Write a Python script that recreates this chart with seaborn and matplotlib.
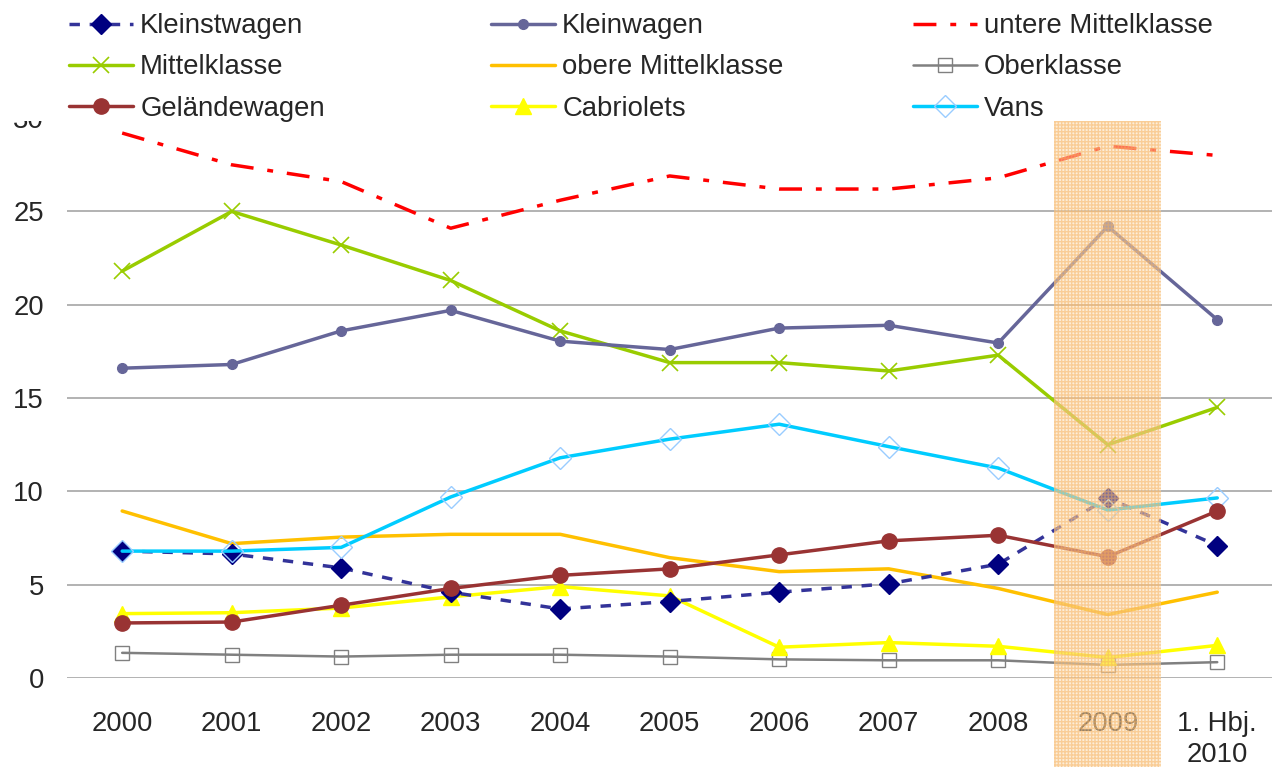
import numpy as np
import pandas as pd
import matplotlib
matplotlib.use("Agg")
import matplotlib.pyplot as plt
import seaborn as sns
from matplotlib.patches import Rectangle
from matplotlib.transforms import blended_transform_factory

# ---- Daten (Anteile in %) ----
years = ['2000', '2001', '2002', '2003', '2004', '2005', '2006', '2007', '2008', '2009', '1. Hbj.\n2010']

kleinstwagen = [6.8, 6.65, 5.9, 4.6, 3.7, 4.1, 4.6, 5.05, 6.1, 9.65, 7.1]
kleinwagen = [16.6, 16.8, 18.6, 19.7, 18.05, 17.6, 18.75, 18.9, 17.95, 24.2, 19.2]
untere_mk = [29.2, 27.5, 26.6, 24.1, 25.6, 26.9, 26.2, 26.2, 26.8, 28.5, 28.0]
mittelklasse = [21.8, 25.0, 23.2, 21.3, 18.6, 16.9, 16.9, 16.45, 17.3, 12.5, 14.5]
obere_mk = [8.95, 7.2, 7.55, 7.7, 7.7, 6.45, 5.7, 5.85, 4.8, 3.4, 4.6]
oberklasse = [1.35, 1.25, 1.15, 1.25, 1.25, 1.15, 1.0, 0.95, 0.95, 0.7, 0.85]
gelaendewagen = [2.95, 3.0, 3.9, 4.8, 5.5, 5.85, 6.6, 7.35, 7.65, 6.5, 8.95]
cabriolets = [3.45, 3.5, 3.75, 4.35, 4.9, 4.4, 1.65, 1.9, 1.7, 1.1, 1.75]
vans = [6.8, 6.8, 7.0, 9.7, 11.8, 12.8, 13.6, 12.4, 11.25, 9.0, 9.65]

series = {
    'Kleinstwagen': kleinstwagen,
    'Kleinwagen': kleinwagen,
    'untere Mittelklasse': untere_mk,
    'Mittelklasse': mittelklasse,
    'obere Mittelklasse': obere_mk,
    'Oberklasse': oberklasse,
    'Geländewagen': gelaendewagen,
    'Cabriolets': cabriolets,
    'Vans': vans,
}

# Stil je Reihe
styles = {
    'Kleinstwagen': dict(color='#333399', ls=(0, (3, 2.8)), lw=2.5, marker='D', ms=10,
                         mfc='#000080', mec='#000080'),
    'Kleinwagen': dict(color='#666699', ls='-', lw=2.5, marker='o', ms=7,
                       mfc='#666699', mec='#666699'),
    'untere Mittelklasse': dict(color='#FF0000', ls=(0, (6.6, 4, 1.7, 4)), lw=2.5, marker=None),
    'Mittelklasse': dict(color='#99CC00', ls='-', lw=2.5, marker='x', ms=11,
                         mfc='#99CC00', mec='#99CC00', mew=1.2),
    'obere Mittelklasse': dict(color='#FFC000', ls='-', lw=2.5, marker=None),
    'Oberklasse': dict(color='#808080', ls='-', lw=1.8, marker='s', ms=10,
                       mfc='none', mec='#808080', mew=1.0),
    'Geländewagen': dict(color='#993333', ls='-', lw=2.5, marker='o', ms=11,
                         mfc='#993333', mec='#993333'),
    'Cabriolets': dict(color='#FFFF00', ls='-', lw=2.5, marker='^', ms=12,
                       mfc='#FFFF00', mec='#FFFF00'),
    'Vans': dict(color='#00CCFF', ls='-', lw=2.5, marker='D', ms=11,
                 mfc='none', mec='#99CCFF', mew=1.0),
}

# Zeichenreihenfolge (hinten -> vorne)
draw_order = ['Oberklasse', 'Cabriolets', 'obere Mittelklasse', 'Kleinstwagen', 'Vans',
              'Geländewagen', 'Mittelklasse', 'Kleinwagen', 'untere Mittelklasse']

rows = []
for name, vals in series.items():
    for i, v in enumerate(vals):
        rows.append({'pos': i, 'wert': v, 'klasse': name})
df = pd.DataFrame(rows)

sns.set_style('white')
plt.rcParams['font.family'] = ['Liberation Sans', 'DejaVu Sans']

fig = plt.figure(figsize=(12.72, 7.67), dpi=100)
ax = fig.add_axes([0.053, 0.116, 0.947, 0.730])

handles = {}
for z, name in enumerate(draw_order):
    st = styles[name]
    sub = df[df['klasse'] == name]
    sns.lineplot(data=sub, x='pos', y='wert', ax=ax, color=st['color'],
                 linestyle=st['ls'], linewidth=st['lw'], legend=False,
                 marker=st.get('marker'), markersize=st.get('ms', 0),
                 markerfacecolor=st.get('mfc', st['color']),
                 markeredgecolor=st.get('mec', st['color']),
                 markeredgewidth=st.get('mew', 1.0), zorder=3 + z)
    handles[name] = ax.lines[-1]

ax.set_xlim(-0.5, len(years) - 0.5)
ax.set_ylim(0, 30)
ax.set_yticks(np.arange(0, 31, 5))
ax.set_xticks(range(len(years)))
ax.set_xticklabels(years, fontsize=19.8, linespacing=1.25)
ax.tick_params(axis='y', labelsize=19.8, length=0, pad=17)
ax.tick_params(axis='x', length=0, pad=24)
ax.set_xlabel('')
ax.set_ylabel('')
ax.yaxis.grid(True, color='#A6A6A6', linewidth=1.2)
ax.xaxis.grid(False)
for sp in ax.spines.values():
    sp.set_visible(False)

# Markierung 2009
idx09 = years.index('2009')
trans = blended_transform_factory(ax.transData, ax.transAxes)
band = Rectangle((idx09 - 0.49, -0.16), 0.98, 1.16, transform=trans, clip_on=False,
                 facecolor='#FDDDB2', edgecolor='#F7AE58', hatch='+++++', linewidth=0,
                 alpha=0.5, zorder=20)
ax.add_patch(band)

# weisser Streifen oben (Legendenbereich verdeckt Achsenoberkante)
top_px = 121
fig.patches.append(Rectangle((0, 1 - top_px / 767), 1, top_px / 767, transform=fig.transFigure,
                             facecolor='white', edgecolor='none', zorder=5))

# Legende: drei Spalten, je eine eigene Legende
columns = [['Kleinstwagen', 'Mittelklasse', 'Geländewagen'],
           ['Kleinwagen', 'obere Mittelklasse', 'Cabriolets'],
           ['untere Mittelklasse', 'Oberklasse', 'Vans']]
col_x = [69, 491, 913]
for names, x0 in zip(columns, col_x):
    leg = fig.legend([handles[n] for n in names], names, loc='upper left',
                     bbox_to_anchor=((x0 - 8) / 1272, 1 - 5 / 767), frameon=False,
                     fontsize=19.8, handlelength=2.33, labelspacing=0.55,
                     handletextpad=0.25, borderpad=0.3, borderaxespad=0)
    leg.set_zorder(10)

fig.savefig('out.png', dpi=100)
